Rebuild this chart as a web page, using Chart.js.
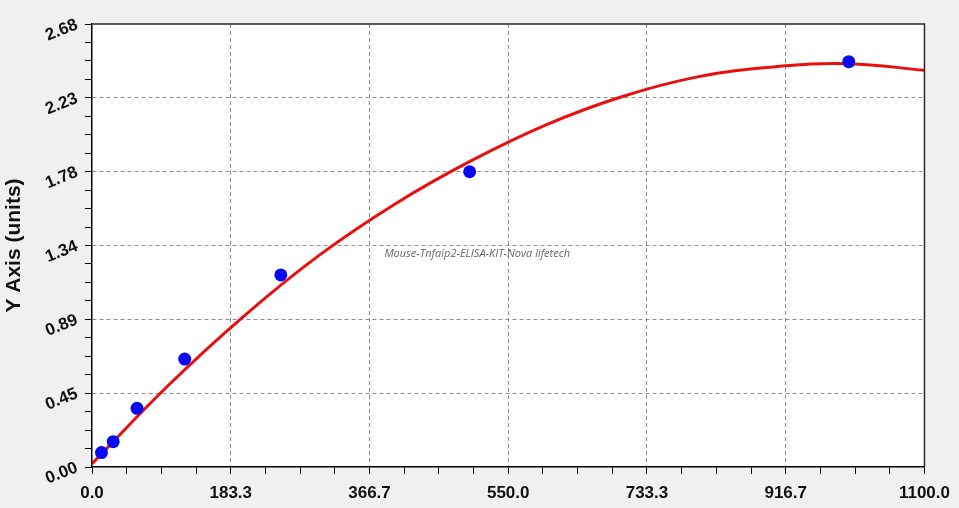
<!DOCTYPE html>
<html>
<head>
<meta charset="utf-8">
<script src="https://cdn.jsdelivr.net/npm/chart.js@4.4.1/dist/chart.umd.min.js"></script>
<style>
  html, body { margin: 0; padding: 0; background: #f0f0f0; }
  #wrap { width: 959px; height: 508px; position: relative; }
</style>
</head>
<body>
<div id="wrap"><canvas id="curve"></canvas></div>
<script>
// standards (concentration vs OD)
var stdConc = [12.5, 28, 59.5, 122.5, 249.5, 499, 1000];
var stdOD   = [0.087, 0.153, 0.355, 0.653, 1.162, 1.786, 2.452];

// fitted curve, sampled from the red line every 100 units
var fitConc = [0, 100, 200, 300, 400, 500, 600, 700, 800, 900, 1000, 1100];
var fitOD   = [0.02, 0.49, 0.91, 1.28, 1.59, 1.85, 2.07, 2.24, 2.36, 2.42, 2.44, 2.40];

var xLabels = ['0.0', '183.3', '366.7', '550.0', '733.3', '916.7', '1100.0'];
var yLabels = ['0.00', '0.45', '0.89', '1.34', '1.78', '2.23', '2.68'];
var xMax = 1100, yMax = 2.68;
var kitName = 'Mouse-Tnfaip2-ELISA-KIT-Nova lifetech';

function pts(xs, ys) {
    var out = [];
    for (var i = 0; i < xs.length; i++) out.push({x: xs[i], y: ys[i]});
    return out;
}

// 6 major divisions, 4 minor steps each
function minorTicks(max) {
    return function(scale) {
        var t = [];
        for (var i = 0; i <= 24; i++) t.push({value: max * i / 24});
        scale.ticks = t;
    };
}

function gridColor(c) {
    return c.index % 4 === 0 && c.index > 0 && c.index < 24 ? '#8e8e8e' : 'rgba(0,0,0,0)';
}

var frame = {
    id: 'frame',
    beforeDraw: function(chart) {
        var a = chart.chartArea, ctx = chart.ctx;
        ctx.save();
        ctx.fillStyle = '#ffffff';
        ctx.fillRect(a.left, a.top, a.right - a.left, a.bottom - a.top);
        ctx.restore();
    },
    afterDatasetsDraw: function(chart) {
        var a = chart.chartArea, ctx = chart.ctx;
        var xs = chart.scales.x, ys = chart.scales.y;
        ctx.save();
        ctx.font = 'italic 11px "Open Sans", sans-serif';
        ctx.fillStyle = '#666666';
        ctx.textAlign = 'center';
        ctx.textBaseline = 'middle';
        ctx.fillText(kitName, xs.getPixelForValue(509), ys.getPixelForValue(1.29));
        ctx.strokeStyle = '#2a2a2a';
        ctx.lineWidth = 1.5;
        ctx.beginPath();
        ctx.moveTo(a.left, a.top);
        ctx.lineTo(a.right, a.top);
        ctx.lineTo(a.right, a.bottom);
        ctx.stroke();
        ctx.restore();
    }
};

var tickFont = '"Liberation Sans", Arial, sans-serif';

new Chart(document.getElementById('curve'), {
    type: 'scatter',
    data: {
        datasets: [{
            label: 'standards',
            data: pts(stdConc, stdOD),
            pointRadius: 6.5,
            pointHoverRadius: 6.5,
            backgroundColor: '#0808f2',
            borderColor: '#0808f2',
            borderWidth: 0
        }, {
            label: 'fit',
            data: pts(fitConc, fitOD),
            showLine: true,
            pointRadius: 0,
            borderColor: '#e8100e',
            borderWidth: 3,
            tension: 0.4
        }]
    },
    options: {
        responsive: true,
        maintainAspectRatio: false,
        animation: false,
        layout: { padding: { top: 24, right: 29, left: 0, bottom: 0 } },
        plugins: {
            legend: { display: false },
            tooltip: { enabled: false }
        },
        scales: {
            x: {
                type: 'linear',
                min: 0,
                max: xMax,
                afterBuildTicks: minorTicks(xMax),
                afterFit: function(s) { s.height = 41; },
                ticks: {
                    autoSkip: false,
                    maxRotation: 0,
                    padding: 9,
                    color: '#111111',
                    font: { family: tickFont, size: 17, weight: 'bold' },
                    callback: function(v, i) { return i % 4 === 0 ? xLabels[i / 4] : ''; }
                },
                grid: {
                    color: gridColor,
                    lineWidth: 1,
                    tickColor: '#000000',
                    tickLength: 7,
                    tickWidth: 1,
                    tickBorderDash: []
                },
                border: { display: true, color: '#000000', width: 1.5, dash: [4, 3] }
            },
            y: {
                type: 'linear',
                min: 0,
                max: yMax,
                afterBuildTicks: minorTicks(yMax),
                afterFit: function(s) { s.width = 92; },
                title: {
                    display: true,
                    text: 'Y Axis (units)',
                    color: '#111111',
                    padding: { top: 2, bottom: 0 },
                    font: { family: tickFont, size: 21, weight: 'bold' }
                },
                ticks: {
                    autoSkip: false,
                    minRotation: 22,
                    maxRotation: 22,
                    padding: 8,
                    color: '#111111',
                    font: { family: tickFont, size: 17, weight: 'bold' },
                    callback: function(v, i) { return i % 4 === 0 ? yLabels[i / 4] : ''; }
                },
                grid: {
                    color: gridColor,
                    lineWidth: 1,
                    tickColor: '#000000',
                    tickLength: 7,
                    tickWidth: 1,
                    tickBorderDash: []
                },
                border: { display: true, color: '#000000', width: 1.5, dash: [4, 3] }
            }
        }
    },
    plugins: [frame]
});
</script>
</body>
</html>
